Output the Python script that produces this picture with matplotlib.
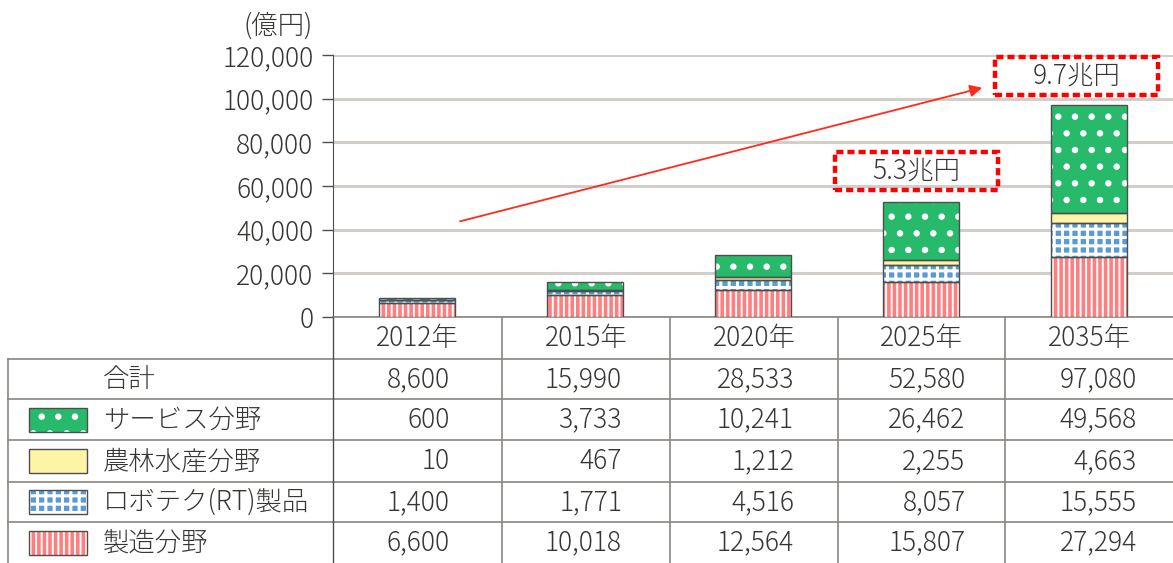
import matplotlib
matplotlib.use('Agg')
import matplotlib.pyplot as plt
from matplotlib.patches import Rectangle
from matplotlib.lines import Line2D
import numpy as np

plt.rcParams['font.family'] = ['Noto Sans CJK JP', 'DejaVu Sans']
plt.rcParams['font.weight'] = 'light'
plt.rcParams['hatch.linewidth'] = 1.5

# data (億円)
years = ['2012年', '2015年', '2020年', '2025年', '2035年']
totals = [8600, 15990, 28533, 52580, 97080]
service = [600, 3733, 10241, 26462, 49568]
agri = [10, 467, 1212, 2255, 4663]
robot = [1400, 1771, 4516, 8057, 15555]
manuf = [6600, 10018, 12564, 15807, 27294]

names = ['サービス分野', '農林水産分野', 'ロボテク(RT)製品', '製造分野']
yticks = [0, 20000, 40000, 60000, 80000, 100000, 120000]

TXT = '#383634'
GRID = '#d2cec9'
LINE = '#8a8682'
EDGE = '#4d4d4d'
FS = 19

# facecolor, hatch, hatch linewidth
styles = {
    'manuf': ('#ff7f7f', '|||', 1.4),
    'robot': ('#5b9bd5', '++', 2.2),
    'agri': ('#fff5a6', None, 1.0),
    'service': ('#27ba6b', '.', 2.2),
}

W, H = 1173, 563
fig = plt.figure(figsize=(W / 100, H / 100), dpi=100)


def fx(px):
    return px / W


def fy(py):
    return 1 - py / H


def set_hlw(patch, lw):
    if hasattr(patch, 'set_hatch_linewidth'):
        patch.set_hatch_linewidth(lw)


ax = fig.add_axes([fx(333), fy(317), fx(840), 262 / H])
x = np.arange(len(years))
bw = 0.455

bottom = np.zeros(len(years))
for key, vals in [('manuf', manuf), ('robot', robot), ('agri', agri), ('service', service)]:
    fc, hatch, hlw = styles[key]
    plt.rcParams['hatch.linewidth'] = hlw
    bars = ax.bar(x, vals, bw, bottom=bottom, color=fc, hatch=hatch, edgecolor='white',
                  linewidth=0, zorder=3)
    for b in bars:
        set_hlw(b, hlw)
    ax.bar(x, vals, bw, bottom=bottom, fill=False, edgecolor=EDGE, linewidth=1.0, zorder=4)
    bottom += np.array(vals)

ax.set_xlim(-0.5, 4.5)
ax.set_ylim(0, 120000)
ax.set_yticks(yticks)
ax.set_yticklabels([f'{v:,}' for v in yticks], fontsize=FS, color=TXT)
ax.set_xticks([])
ax.tick_params(axis='y', length=8, width=1, color=EDGE, pad=6)
ax.yaxis.grid(True, color=GRID, linewidth=2.2, zorder=0)
ax.set_axisbelow(True)
for s in ['top', 'right']:
    ax.spines[s].set_visible(False)
ax.spines['left'].set_color(EDGE)
ax.spines['bottom'].set_color(LINE)
ax.spines['bottom'].set_linewidth(1.2)

fig.text(fx(313), fy(26), '(億円)', ha='right', va='center', fontsize=FS, color=TXT)

# arrow and callouts
ax.annotate('', xy=(3.38, 105300), xytext=(0.24, 43500),
            arrowprops=dict(arrowstyle='-|>', color='#ff2a1a', lw=1.3,
                            mutation_scale=18), zorder=5)
for (x0, x1, y0, y1, label) in [(2.488, 3.458, 58200, 75600, '5.3兆円'),
                                (3.44, 4.41, 101700, 119100, '9.7兆円')]:
    ax.add_patch(Rectangle((x0, y0), x1 - x0, y1 - y0, fill=False, edgecolor='#ff0000',
                           linewidth=3.2, linestyle=(0, (1.6, 0.9)), clip_on=False, zorder=6))
    ax.text((x0 + x1) / 2, (y0 + y1) / 2, label, ha='center', va='center',
            fontsize=FS, color=TXT, zorder=7)

# table
col_edges = [333, 502, 670, 838, 1005, 1173]
row_edges = [317, 359, 399, 440, 482, 522, 563]

for py in row_edges[1:-1]:
    fig.add_artist(Line2D([fx(8), fx(1173)], [fy(py), fy(py)], color=LINE, lw=1.2))
fig.add_artist(Line2D([fx(8), fx(8)], [fy(359), fy(563)], color=LINE, lw=1.2))
fig.add_artist(Line2D([fx(333), fx(333)], [fy(317), fy(563)], color=EDGE, lw=1.0))
for cx in col_edges[1:-1]:
    fig.add_artist(Line2D([fx(cx), fx(cx)], [fy(317), fy(563)], color=LINE, lw=1.2))

centers = [(col_edges[i] + col_edges[i + 1]) / 2 for i in range(5)]
rowc = [(row_edges[i] + row_edges[i + 1]) / 2 for i in range(6)]

for i, yr in enumerate(years):
    fig.text(fx(centers[i]), fy(rowc[0]), yr, ha='center', va='center', fontsize=FS, color=TXT)

rows = [totals, service, agri, robot, manuf]
for r, vals in enumerate(rows):
    for i, v in enumerate(vals):
        fig.text(fx(centers[i] + 32 + 4 * i), fy(rowc[r + 1]), f'{v:,}', ha='right',
                 va='center', fontsize=FS, color=TXT)

fig.text(fx(103), fy(rowc[1]), '合計', ha='left', va='center', fontsize=FS, color=TXT)
for k, (key, name) in enumerate(zip(['service', 'agri', 'robot', 'manuf'], names)):
    cy = rowc[k + 2]
    fc, hatch, hlw = styles[key]
    plt.rcParams['hatch.linewidth'] = hlw
    sw = Rectangle((fx(29), fy(cy + 12)), 58 / W, 24 / H, transform=fig.transFigure,
                   facecolor=fc, hatch=hatch, edgecolor='white', linewidth=0)
    set_hlw(sw, hlw)
    fig.add_artist(sw)
    fig.add_artist(Rectangle((fx(29), fy(cy + 12)), 58 / W, 24 / H, transform=fig.transFigure,
                             fill=False, edgecolor=EDGE, linewidth=1.0))
    fig.text(fx(103), fy(cy), name, ha='left', va='center', fontsize=FS, color=TXT)

fig.savefig('out.png', dpi=100)
